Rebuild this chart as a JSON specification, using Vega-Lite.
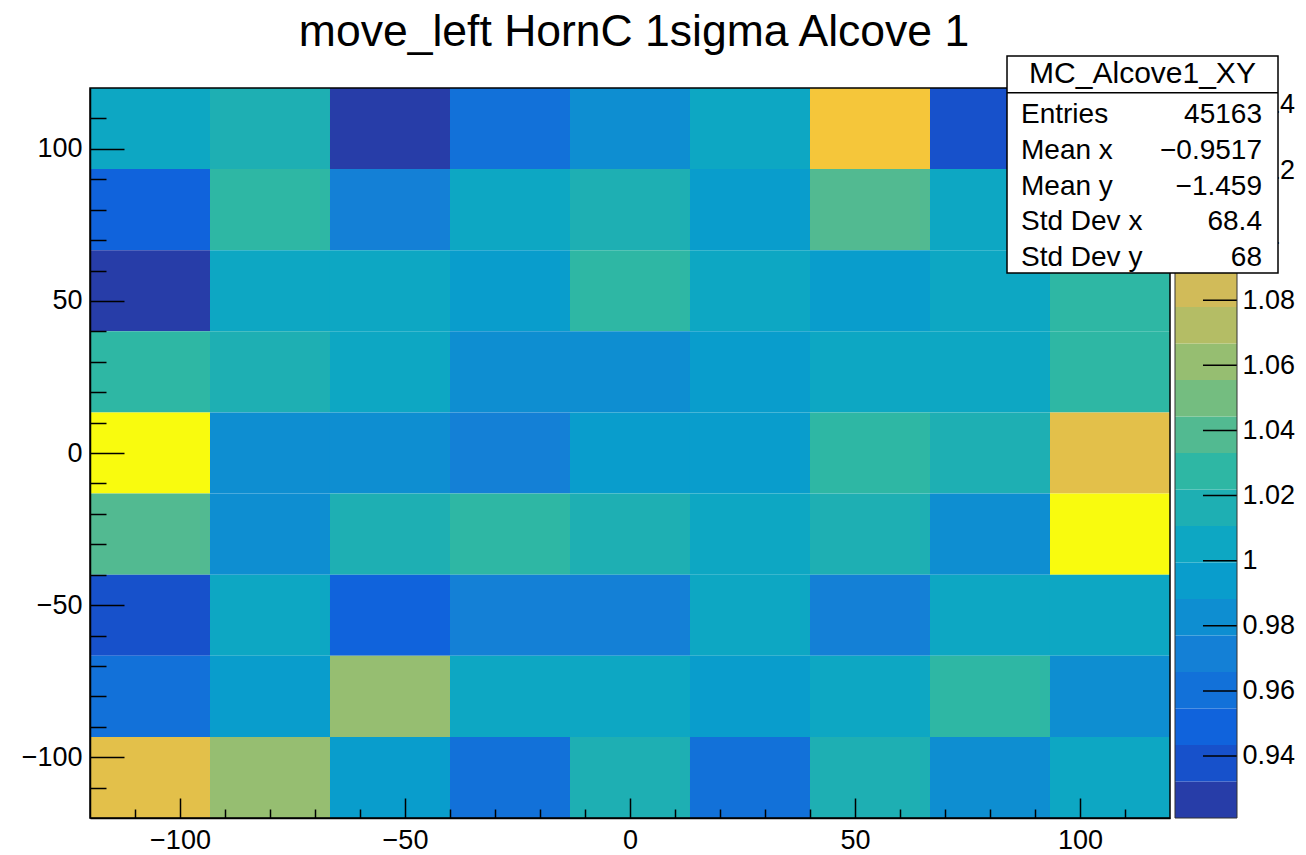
{
  "$schema": "https://vega.github.io/schema/vega-lite/v6.json",
  "width": 1080,
  "height": 730,
  "autosize": {"type": "none"},
  "padding": {"left": 90, "top": 88, "right": 136, "bottom": 37},
  "background": "white",
  "config": {
    "font": "Liberation Sans",
    "view": {"stroke": null},
    "axis": {"grid": false, "labelFont": "Liberation Sans", "labelColor": "black", "tickColor": "black", "domainColor": "black", "labelFlush": false, "labelOverlap": false}
  },
  "title": {"text": "move_left HornC 1sigma Alcove 1", "fontSize": 44.5, "font": "Liberation Sans", "fontWeight": "normal", "color": "black", "anchor": "middle", "frame": "group", "offset": 0, "dx": 4},
  "datasets": {
    "cells": [
      {"x1": -120, "x2": -93.3333, "y1": 93.3333, "y2": 120, "z": 1.0062},
      {"x1": -93.3333, "x2": -66.6667, "y1": 93.3333, "y2": 120, "z": 1.0151},
      {"x1": -66.6667, "x2": -40, "y1": 93.3333, "y2": 120, "z": 0.9247},
      {"x1": -40, "x2": -13.3333, "y1": 93.3333, "y2": 120, "z": 0.9589},
      {"x1": -13.3333, "x2": 13.3333, "y1": 93.3333, "y2": 120, "z": 0.9812},
      {"x1": 13.3333, "x2": 40, "y1": 93.3333, "y2": 120, "z": 1.0038},
      {"x1": 40, "x2": 66.6667, "y1": 93.3333, "y2": 120, "z": 1.1043},
      {"x1": 66.6667, "x2": 93.3333, "y1": 93.3333, "y2": 120, "z": 0.9391},
      {"x1": 93.3333, "x2": 120, "y1": 93.3333, "y2": 120, "z": 1.0047},
      {"x1": -120, "x2": -93.3333, "y1": 66.6667, "y2": 93.3333, "z": 0.9502},
      {"x1": -93.3333, "x2": -66.6667, "y1": 66.6667, "y2": 93.3333, "z": 1.0283},
      {"x1": -66.6667, "x2": -40, "y1": 66.6667, "y2": 93.3333, "z": 0.9722},
      {"x1": -40, "x2": -13.3333, "y1": 66.6667, "y2": 93.3333, "z": 1.0049},
      {"x1": -13.3333, "x2": 13.3333, "y1": 66.6667, "y2": 93.3333, "z": 1.0171},
      {"x1": 13.3333, "x2": 40, "y1": 66.6667, "y2": 93.3333, "z": 0.9947},
      {"x1": 40, "x2": 66.6667, "y1": 66.6667, "y2": 93.3333, "z": 1.0379},
      {"x1": 66.6667, "x2": 93.3333, "y1": 66.6667, "y2": 93.3333, "z": 1.0058},
      {"x1": 93.3333, "x2": 120, "y1": 66.6667, "y2": 93.3333, "z": 1.0158},
      {"x1": -120, "x2": -93.3333, "y1": 40, "y2": 66.6667, "z": 0.9211},
      {"x1": -93.3333, "x2": -66.6667, "y1": 40, "y2": 66.6667, "z": 1.0041},
      {"x1": -66.6667, "x2": -40, "y1": 40, "y2": 66.6667, "z": 1.0066},
      {"x1": -40, "x2": -13.3333, "y1": 40, "y2": 66.6667, "z": 0.9928},
      {"x1": -13.3333, "x2": 13.3333, "y1": 40, "y2": 66.6667, "z": 1.0262},
      {"x1": 13.3333, "x2": 40, "y1": 40, "y2": 66.6667, "z": 1.0055},
      {"x1": 40, "x2": 66.6667, "y1": 40, "y2": 66.6667, "z": 0.9941},
      {"x1": 66.6667, "x2": 93.3333, "y1": 40, "y2": 66.6667, "z": 1.0044},
      {"x1": 93.3333, "x2": 120, "y1": 40, "y2": 66.6667, "z": 1.0281},
      {"x1": -120, "x2": -93.3333, "y1": 13.3333, "y2": 40, "z": 1.0269},
      {"x1": -93.3333, "x2": -66.6667, "y1": 13.3333, "y2": 40, "z": 1.0169},
      {"x1": -66.6667, "x2": -40, "y1": 13.3333, "y2": 40, "z": 1.0057},
      {"x1": -40, "x2": -13.3333, "y1": 13.3333, "y2": 40, "z": 0.9819},
      {"x1": -13.3333, "x2": 13.3333, "y1": 13.3333, "y2": 40, "z": 0.9835},
      {"x1": 13.3333, "x2": 40, "y1": 13.3333, "y2": 40, "z": 0.9930},
      {"x1": 40, "x2": 66.6667, "y1": 13.3333, "y2": 40, "z": 1.0048},
      {"x1": 66.6667, "x2": 93.3333, "y1": 13.3333, "y2": 40, "z": 1.0061},
      {"x1": 93.3333, "x2": 120, "y1": 13.3333, "y2": 40, "z": 1.0272},
      {"x1": -120, "x2": -93.3333, "y1": -13.3333, "y2": 13.3333, "z": 1.1450},
      {"x1": -93.3333, "x2": -66.6667, "y1": -13.3333, "y2": 13.3333, "z": 0.9831},
      {"x1": -66.6667, "x2": -40, "y1": -13.3333, "y2": 13.3333, "z": 0.9817},
      {"x1": -40, "x2": -13.3333, "y1": -13.3333, "y2": 13.3333, "z": 0.9709},
      {"x1": -13.3333, "x2": 13.3333, "y1": -13.3333, "y2": 13.3333, "z": 0.9939},
      {"x1": 13.3333, "x2": 40, "y1": -13.3333, "y2": 13.3333, "z": 0.9936},
      {"x1": 40, "x2": 66.6667, "y1": -13.3333, "y2": 13.3333, "z": 1.0271},
      {"x1": 66.6667, "x2": 93.3333, "y1": -13.3333, "y2": 13.3333, "z": 1.0158},
      {"x1": 93.3333, "x2": 120, "y1": -13.3333, "y2": 13.3333, "z": 1.0951},
      {"x1": -120, "x2": -93.3333, "y1": -40, "y2": -13.3333, "z": 1.0392},
      {"x1": -93.3333, "x2": -66.6667, "y1": -40, "y2": -13.3333, "z": 0.9822},
      {"x1": -66.6667, "x2": -40, "y1": -40, "y2": -13.3333, "z": 1.0167},
      {"x1": -40, "x2": -13.3333, "y1": -40, "y2": -13.3333, "z": 1.0279},
      {"x1": -13.3333, "x2": 13.3333, "y1": -40, "y2": -13.3333, "z": 1.0159},
      {"x1": 13.3333, "x2": 40, "y1": -40, "y2": -13.3333, "z": 1.0054},
      {"x1": 40, "x2": 66.6667, "y1": -40, "y2": -13.3333, "z": 1.0165},
      {"x1": 66.6667, "x2": 93.3333, "y1": -40, "y2": -13.3333, "z": 0.9829},
      {"x1": 93.3333, "x2": 120, "y1": -40, "y2": -13.3333, "z": 1.1398},
      {"x1": -120, "x2": -93.3333, "y1": -66.6667, "y2": -40, "z": 0.9383},
      {"x1": -93.3333, "x2": -66.6667, "y1": -66.6667, "y2": -40, "z": 1.0047},
      {"x1": -66.6667, "x2": -40, "y1": -66.6667, "y2": -40, "z": 0.9487},
      {"x1": -40, "x2": -13.3333, "y1": -66.6667, "y2": -40, "z": 0.9718},
      {"x1": -13.3333, "x2": 13.3333, "y1": -66.6667, "y2": -40, "z": 0.9711},
      {"x1": 13.3333, "x2": 40, "y1": -66.6667, "y2": -40, "z": 1.0052},
      {"x1": 40, "x2": 66.6667, "y1": -66.6667, "y2": -40, "z": 0.9720},
      {"x1": 66.6667, "x2": 93.3333, "y1": -66.6667, "y2": -40, "z": 1.0059},
      {"x1": 93.3333, "x2": 120, "y1": -66.6667, "y2": -40, "z": 1.0045},
      {"x1": -120, "x2": -93.3333, "y1": -93.3333, "y2": -66.6667, "z": 0.9597},
      {"x1": -93.3333, "x2": -66.6667, "y1": -93.3333, "y2": -66.6667, "z": 0.9942},
      {"x1": -66.6667, "x2": -40, "y1": -93.3333, "y2": -66.6667, "z": 1.0609},
      {"x1": -40, "x2": -13.3333, "y1": -93.3333, "y2": -66.6667, "z": 1.0050},
      {"x1": -13.3333, "x2": 13.3333, "y1": -93.3333, "y2": -66.6667, "z": 1.0043},
      {"x1": 13.3333, "x2": 40, "y1": -93.3333, "y2": -66.6667, "z": 0.9933},
      {"x1": 40, "x2": 66.6667, "y1": -93.3333, "y2": -66.6667, "z": 1.0056},
      {"x1": 66.6667, "x2": 93.3333, "y1": -93.3333, "y2": -66.6667, "z": 1.0273},
      {"x1": 93.3333, "x2": 120, "y1": -93.3333, "y2": -66.6667, "z": 0.9830},
      {"x1": -120, "x2": -93.3333, "y1": -120, "y2": -93.3333, "z": 1.0943},
      {"x1": -93.3333, "x2": -66.6667, "y1": -120, "y2": -93.3333, "z": 1.0618},
      {"x1": -66.6667, "x2": -40, "y1": -120, "y2": -93.3333, "z": 0.9938},
      {"x1": -40, "x2": -13.3333, "y1": -120, "y2": -93.3333, "z": 0.9605},
      {"x1": -13.3333, "x2": 13.3333, "y1": -120, "y2": -93.3333, "z": 1.0162},
      {"x1": 13.3333, "x2": 40, "y1": -120, "y2": -93.3333, "z": 0.9598},
      {"x1": 40, "x2": 66.6667, "y1": -120, "y2": -93.3333, "z": 1.0170},
      {"x1": 66.6667, "x2": 93.3333, "y1": -120, "y2": -93.3333, "z": 0.9825},
      {"x1": 93.3333, "x2": 120, "y1": -120, "y2": -93.3333, "z": 1.0053}
    ],
    "bands": [
      {"lo": 0.92095, "hi": 0.93216, "z": 0.92656},
      {"lo": 0.93216, "hi": 0.94338, "z": 0.93777},
      {"lo": 0.94338, "hi": 0.95459, "z": 0.94898},
      {"lo": 0.95459, "hi": 0.96580, "z": 0.96020},
      {"lo": 0.96580, "hi": 0.97702, "z": 0.97141},
      {"lo": 0.97702, "hi": 0.98823, "z": 0.98263},
      {"lo": 0.98823, "hi": 0.99944, "z": 0.99384},
      {"lo": 0.99944, "hi": 1.01065, "z": 1.00505},
      {"lo": 1.01065, "hi": 1.02187, "z": 1.01626},
      {"lo": 1.02187, "hi": 1.03308, "z": 1.02748},
      {"lo": 1.03308, "hi": 1.04429, "z": 1.03869},
      {"lo": 1.04429, "hi": 1.05551, "z": 1.04990},
      {"lo": 1.05551, "hi": 1.06672, "z": 1.06112},
      {"lo": 1.06672, "hi": 1.07794, "z": 1.07233},
      {"lo": 1.07794, "hi": 1.08915, "z": 1.08354},
      {"lo": 1.08915, "hi": 1.10036, "z": 1.09476},
      {"lo": 1.10036, "hi": 1.11158, "z": 1.10597},
      {"lo": 1.11158, "hi": 1.12279, "z": 1.11718},
      {"lo": 1.12279, "hi": 1.13400, "z": 1.12840},
      {"lo": 1.13400, "hi": 1.14521, "z": 1.13961}
    ],
    "cbticks": [
      {"v": 0.94}, {"v": 0.96}, {"v": 0.98}, {"v": 1.0}, {"v": 1.02}, {"v": 1.04},
      {"v": 1.06}, {"v": 1.08}, {"v": 1.1}, {"v": 1.12}, {"v": 1.14}
    ]
  },
  "resolve": {"scale": {"y": "independent", "color": "shared"}, "axis": {"x": "independent", "y": "independent"}},
  "layer": [
    {
      "data": {"name": "cells"},
      "mark": {"type": "rect"},
      "encoding": {
        "x": {"field": "x1", "type": "quantitative", "scale": {"domain": [-120, 120], "nice": false, "zero": false},
              "axis": {"orient": "bottom", "values": [-100, -50, 0, 50, 100], "tickSize": -20, "tickWidth": 1.5, "domainWidth": 1.5, "labelFontSize": 27, "labelPadding": 29, "title": null, "zindex": 1}},
        "x2": {"field": "x2"},
        "y": {"field": "y1", "type": "quantitative", "scale": {"domain": [-120, 120], "nice": false, "zero": false},
              "axis": {"orient": "left", "values": [-100, -50, 0, 50, 100], "tickSize": -34, "tickWidth": 1.5, "domainWidth": 1.5, "labelFontSize": 27, "labelPadding": 42, "title": null, "zindex": 1}},
        "y2": {"field": "y2"},
        "color": {"field": "z", "type": "quantitative",
                  "scale": {"type": "quantize", "domain": [0.92095, 1.14521], "nice": false, "zero": false,
                            "range": ["#273da8", "#1751cb", "#1063dc", "#1271d9", "#1480d6", "#0e8ed1", "#099dcc", "#0da7c3", "#1eafb3", "#2eb7a4", "#52ba91", "#74bd80", "#96be71", "#b4bd65", "#d1bb59", "#e3c04a", "#f5c63a", "#fdd32a", "#fbe81c", "#f9fb0e"]},
                  "legend": null}
      }
    },
    {
      "data": {"name": "bands"},
      "mark": {"type": "rect"},
      "encoding": {
        "x": {"datum": 121.11, "type": "quantitative", "axis": null},
        "x2": {"datum": 134.89},
        "y": {"field": "lo", "type": "quantitative", "scale": {"domain": [0.92095, 1.14521], "nice": false, "zero": false},
              "axis": {"orient": "right", "offset": 67, "values": [0.94, 0.96, 0.98, 1.0, 1.02, 1.04, 1.06, 1.08, 1.1, 1.12, 1.14], "format": ".2~f", "ticks": false, "domain": false, "labelPadding": 5, "labelFontSize": 27, "title": null, "zindex": 0}},
        "y2": {"field": "hi"},
        "color": {"field": "z", "type": "quantitative",
                  "scale": {"type": "quantize", "domain": [0.92095, 1.14521], "nice": false, "zero": false,
                            "range": ["#273da8", "#1751cb", "#1063dc", "#1271d9", "#1480d6", "#0e8ed1", "#099dcc", "#0da7c3", "#1eafb3", "#2eb7a4", "#52ba91", "#74bd80", "#96be71", "#b4bd65", "#d1bb59", "#e3c04a", "#f5c63a", "#fdd32a", "#fbe81c", "#f9fb0e"]},
                  "legend": null}
      }
    },
    {
      "data": {"name": "cbticks"},
      "mark": {"type": "rule", "color": "black", "strokeWidth": 1.5},
      "encoding": {
        "x": {"datum": 127.33, "type": "quantitative", "axis": null},
        "x2": {"datum": 134.89},
        "y": {"field": "v", "type": "quantitative", "scale": {"domain": [0.92095, 1.14521], "nice": false, "zero": false}, "axis": null}
      }
    },
    {
      "data": {"values": [{}]},
      "mark": {"type": "rect", "filled": false, "stroke": "#333333", "strokeWidth": 1},
      "encoding": {
        "x": {"datum": 121.11, "type": "quantitative", "axis": null},
        "x2": {"datum": 134.89},
        "y": {"datum": -120, "type": "quantitative", "scale": {"domain": [-120, 120], "nice": false, "zero": false}, "axis": null},
        "y2": {"datum": 120}
      }
    },
    {
      "data": {"values": [{}]},
      "mark": {"type": "rect", "filled": false, "stroke": "black", "strokeWidth": 1.5},
      "encoding": {
        "x": {"datum": -120, "type": "quantitative", "axis": null},
        "x2": {"datum": 120},
        "y": {"datum": -120, "type": "quantitative", "scale": {"domain": [-120, 120], "nice": false, "zero": false}, "axis": null},
        "y2": {"datum": 120}
      }
    },
    {
      "data": {"values": [{}]},
      "mark": {"type": "rect", "fill": "white", "stroke": "black", "strokeWidth": 1.5},
      "encoding": {
        "x": {"datum": 83.78, "type": "quantitative",
              "axis": {"orient": "bottom", "values": [-110, -90, -80, -70, -60, -40, -30, -20, -10, 10, 20, 30, 40, 60, 70, 80, 90, 110], "labels": false, "domain": false, "tickSize": -9, "tickWidth": 1.5, "title": null, "zindex": 1}},
        "x2": {"datum": 144.0},
        "y": {"datum": 130.52, "type": "quantitative", "scale": {"domain": [-120, 120], "nice": false, "zero": false},
              "axis": {"orient": "left", "values": [-110, -90, -80, -70, -60, -40, -30, -20, -10, 10, 20, 30, 40, 60, 70, 80, 90, 110], "labels": false, "domain": false, "tickSize": -16, "tickWidth": 1.5, "title": null, "zindex": 1}},
        "y2": {"datum": 59.18}
      }
    },
    {
      "data": {"values": [{}]},
      "mark": {"type": "rule", "color": "black", "strokeWidth": 1.5},
      "encoding": {
        "x": {"datum": 83.78, "type": "quantitative", "axis": null},
        "x2": {"datum": 144.0},
        "y": {"datum": 118.45, "type": "quantitative", "scale": {"domain": [-120, 120], "nice": false, "zero": false}, "axis": null}
      }
    },
    {
      "data": {"values": [{}]},
      "mark": {"type": "text", "text": "MC_Alcove1_XY", "fontSize": 30, "font": "Liberation Sans", "align": "center", "baseline": "alphabetic", "color": "black"},
      "encoding": {
        "x": {"datum": 113.89, "type": "quantitative", "axis": null},
        "y": {"datum": 121.64, "type": "quantitative", "scale": {"domain": [-120, 120], "nice": false, "zero": false}, "axis": null}
      }
    },
    {
      "data": {"values": [{}]},
      "mark": {"type": "text", "text": ["Entries", "Mean x", "Mean y", "Std Dev x", "Std Dev y"], "lineHeight": 35.7, "fontSize": 28, "font": "Liberation Sans", "align": "left", "baseline": "alphabetic", "color": "black"},
      "encoding": {
        "x": {"datum": 86.89, "type": "quantitative", "axis": null},
        "y": {"datum": 108.39, "type": "quantitative", "scale": {"domain": [-120, 120], "nice": false, "zero": false}, "axis": null}
      }
    },
    {
      "data": {"values": [{}]},
      "mark": {"type": "text", "text": ["45163", "−0.9517", "−1.459", "68.4", "68"], "lineHeight": 35.7, "fontSize": 28, "font": "Liberation Sans", "align": "right", "baseline": "alphabetic", "color": "black"},
      "encoding": {
        "x": {"datum": 140.44, "type": "quantitative", "axis": null},
        "y": {"datum": 108.39, "type": "quantitative", "scale": {"domain": [-120, 120], "nice": false, "zero": false}, "axis": null}
      }
    }
  ]
}
